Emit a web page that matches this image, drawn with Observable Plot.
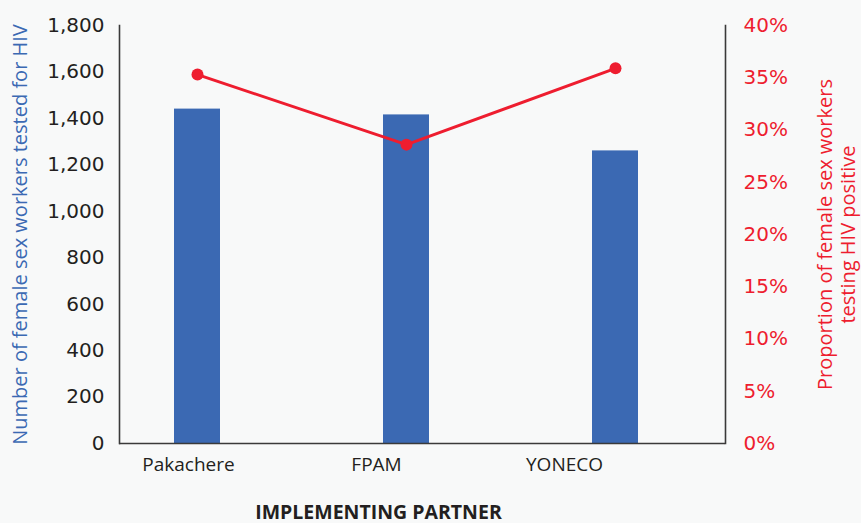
<!DOCTYPE html>
<html>
<head>
<meta charset="utf-8">
<script src="https://cdn.jsdelivr.net/npm/d3@7"></script>
<script src="https://cdn.jsdelivr.net/npm/@observablehq/plot@0.6"></script>
<style>
  html, body { margin: 0; padding: 0; background: #f8f9f9; }
  #chart { position: relative; width: 861px; height: 523px; }
  #chart svg { position: absolute; left: 0; top: 0; }
</style>
</head>
<body>
<div id="chart"></div>
<script>
// ---- data ----
const categories = ["Pakachere", "FPAM", "YONECO"];
const tested = [1440, 1415, 1260];
const positivity = [0.353, 0.286, 0.359];
const leftTicks = [0, 200, 400, 600, 800, 1000, 1200, 1400, 1600, 1800];
const rightTicks = [0, 0.05, 0.10, 0.15, 0.20, 0.25, 0.30, 0.35, 0.40];
const leftTitle = "Number of female sex workers tested for HIV";
const rightTitle = "Proportion of female sex workers\ntesting HIV positive";
const xTitle = "IMPLEMENTING PARTNER";

const data = categories.map((c, i) => ({cat: c, tested: tested[i], pos: positivity[i]}));

const BLUE = "#3b69b3";
const RED = "#ee1d2f";
const INK = "#231f20";
const AXIS = "#3a3a3a";
const W = 861, H = 523;
const M = {top: 25, right: 136, bottom: 80, left: 119};

const xBand = {type: "band", domain: categories, range: [174, 638], paddingInner: 0.78, paddingOuter: 0, axis: null};

// Layer A: bars + left axis + axis lines
const layerA = Plot.plot({
  width: W, height: H,
  marginTop: M.top, marginRight: M.right, marginBottom: M.bottom, marginLeft: M.left,
  style: {background: "transparent", fontFamily: "DejaVu Sans", fontSize: "20px", color: INK, overflow: "visible"},
  x: xBand,
  y: {domain: [0, 1800], axis: null},
  marks: [
    Plot.barY(data, {x: "cat", y: "tested", fill: BLUE}),
    Plot.axisY({ticks: leftTicks, tickFormat: d3.format(","), tickSize: 0, tickPadding: 15, label: null, fill: INK, fontSize: 20}),
    Plot.ruleY([0], {stroke: AXIS, strokeWidth: 1.6}),
    Plot.frame({anchor: "left", stroke: AXIS, strokeWidth: 1.6}),
    Plot.frame({anchor: "right", stroke: AXIS, strokeWidth: 1.6}),
    Plot.text([leftTitle], {frameAnchor: "left", rotate: -90, dx: -99, fill: BLUE, fontSize: 20, fontFamily: "Open Sans", textAnchor: "middle", lineAnchor: "middle"})
  ]
});

// Layer B: line + dots + right axis
const layerB = Plot.plot({
  width: W, height: H,
  marginTop: M.top, marginRight: M.right, marginBottom: M.bottom, marginLeft: M.left,
  style: {background: "transparent", fontFamily: "DejaVu Sans", fontSize: "20px", color: RED, overflow: "visible"},
  x: xBand,
  y: {domain: [0, 0.4], axis: null},
  marks: [
    Plot.lineY(data, {x: "cat", y: "pos", stroke: RED, strokeWidth: 3}),
    Plot.dot(data, {x: "cat", y: "pos", r: 6, fill: RED}),
    Plot.axisY({anchor: "right", ticks: rightTicks, tickFormat: d3.format(".0%"), tickSize: 0, tickPadding: 18, label: null, fill: RED, fontSize: 20}),
    Plot.text([rightTitle], {frameAnchor: "right", rotate: -90, dx: 111, fill: RED, fontSize: 20, fontFamily: "Open Sans", textAnchor: "middle", lineAnchor: "middle", lineHeight: 1.15})
  ]
});

// Layer C: category labels + x title
const layerC = Plot.plot({
  width: W, height: H,
  marginTop: M.top, marginRight: 224, marginBottom: M.bottom, marginLeft: M.left,
  style: {background: "transparent", fontFamily: "Open Sans", fontSize: "19px", color: INK, overflow: "visible"},
  x: {type: "point", domain: categories, range: [187.5, 565], padding: 0, axis: null},
  marks: [
    Plot.axisX({tickSize: 0, tickPadding: 14, label: null, fill: INK, fontSize: 19, fontFamily: "Open Sans"}),
    Plot.text([xTitle], {frameAnchor: "bottom", dy: 69, fill: INK, fontSize: 19.5, fontWeight: "bold", fontFamily: "Open Sans", lineAnchor: "middle"})
  ]
});

const chart = document.getElementById("chart");
chart.append(layerA, layerB, layerC);
</script>
</body>
</html>
